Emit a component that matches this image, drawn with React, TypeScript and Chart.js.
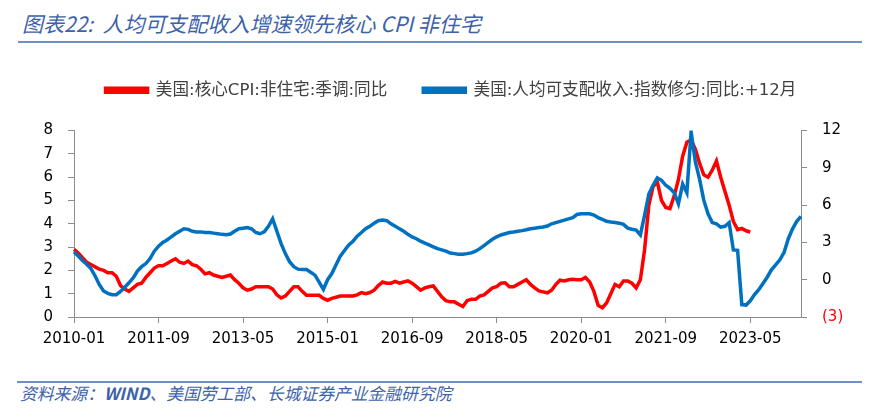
import { useEffect, useRef } from "react";
import { Chart, registerables } from "chart.js";

Chart.register(...registerables);

// ---------- data ----------
const monthCount = 173; // 2010-01 .. 2024-05
const categories: string[] = Array.from({ length: monthCount }, (_, i) => {
  const y = 2010 + Math.floor(i / 12);
  const m = (i % 12) + 1;
  return `${y}-${String(m).padStart(2, "0")}`;
});

const xTickLabels = [
  "2010-01", "2011-09", "2013-05", "2015-01", "2016-09",
  "2018-05", "2020-01", "2021-09", "2023-05",
];

// 美国:核心CPI:非住宅:季调:同比 (left axis), 2010-01 .. 2023-05
const coreCpiExShelter = [
  2.9, 2.75, 2.55, 2.35, 2.25, 2.15, 2.05, 2.0, 1.9, 1.9,
  1.75, 1.35, 1.2, 1.1, 1.25, 1.4, 1.45, 1.7, 1.9, 2.1,
  2.2, 2.2, 2.3, 2.4, 2.5, 2.35, 2.3, 2.4, 2.25, 2.2,
  2.05, 1.85, 1.9, 1.8, 1.75, 1.7, 1.75, 1.8, 1.6, 1.45,
  1.25, 1.15, 1.2, 1.3, 1.3, 1.3, 1.3, 1.2, 0.95, 0.82,
  0.9, 1.1, 1.3, 1.3, 1.1, 0.93, 0.93, 0.93, 0.93, 0.8,
  0.72, 0.8, 0.85, 0.9, 0.9, 0.9, 0.9, 0.95, 1.05, 1.0,
  1.05, 1.15, 1.35, 1.5, 1.45, 1.45, 1.53, 1.45, 1.5, 1.55,
  1.45, 1.3, 1.15, 1.25, 1.3, 1.33, 1.1, 0.87, 0.7, 0.65,
  0.65, 0.55, 0.45, 0.7, 0.76, 0.76, 0.9, 0.95, 1.1, 1.25,
  1.3, 1.45, 1.47, 1.3, 1.3, 1.4, 1.5, 1.6, 1.4, 1.25,
  1.12, 1.08, 1.04, 1.15, 1.4, 1.58, 1.55, 1.6, 1.62, 1.6,
  1.6, 1.7, 1.5, 1.1, 0.5, 0.4, 0.6, 1.0, 1.4, 1.3,
  1.55, 1.55, 1.45, 1.25, 1.6, 2.9, 4.8, 5.6, 5.8, 5.0,
  4.7, 4.65, 5.2, 5.9, 6.9, 7.5, 7.6, 7.2, 6.6, 6.1,
  6.0, 6.3, 6.7, 6.0, 5.4, 4.8, 4.1, 3.75, 3.8, 3.7,
  3.65,
];

// 美国:人均可支配收入:指数修匀:同比:+12月 (right axis), 2010-01 .. 2024-05
const incomePerCapita = [
  2.24, 1.9, 1.55, 1.25, 0.9, 0.3, -0.4, -0.9, -1.1, -1.2,
  -1.2, -0.95, -0.6, -0.25, 0.15, 0.7, 1.05, 1.3, 1.7, 2.3,
  2.7, 3.0, 3.2, 3.45, 3.7, 3.9, 4.1, 4.05, 3.9, 3.85,
  3.85, 3.8, 3.8, 3.75, 3.7, 3.65, 3.62, 3.68, 3.9, 4.1,
  4.15, 4.2, 4.1, 3.8, 3.7, 3.85, 4.3, 4.9, 3.9, 2.9,
  2.1, 1.45, 1.05, 0.85, 0.82, 0.82, 0.6, 0.37, -0.2, -0.78,
  0.0, 0.5, 1.2, 1.9, 2.35, 2.8, 3.1, 3.5, 3.8, 4.1,
  4.3, 4.55, 4.75, 4.8, 4.75, 4.5, 4.3, 4.1, 3.9, 3.65,
  3.44, 3.3, 3.1, 2.95, 2.8, 2.64, 2.5, 2.4, 2.3, 2.15,
  2.1, 2.05, 2.05, 2.1, 2.16, 2.3, 2.5, 2.75, 3.0, 3.25,
  3.45, 3.6, 3.7, 3.8, 3.84, 3.9, 3.95, 4.02, 4.1, 4.15,
  4.2, 4.25, 4.32, 4.5, 4.6, 4.7, 4.8, 4.9, 5.0, 5.25,
  5.3, 5.3, 5.3, 5.2, 5.0, 4.85, 4.7, 4.64, 4.6, 4.55,
  4.45, 4.15, 4.06, 4.0, 3.6, 5.2, 6.9, 7.6, 8.2, 8.0,
  7.6, 7.35, 7.0, 6.1, 7.7, 7.0, 11.9, 9.5, 8.1, 6.4,
  5.3, 4.6, 4.5, 4.24, 4.3, 4.6, 2.4, 2.37, -2.0, -2.04,
  -1.7, -1.2, -0.8, -0.3, 0.2, 0.8, 1.2, 1.6, 2.2, 3.3,
  4.1, 4.7, 5.1,
];

const redLabel = "美国:核心CPI:非住宅:季调:同比";
const blueLabel = "美国:人均可支配收入:指数修匀:同比:+12月";

const AXIS_COLOR = "#8c8c8c";
const TICK_FONT = { family: "'DejaVu Sans', 'Noto Sans CJK SC', sans-serif", size: 15 };

const legendGap = {
  id: "legendGap",
  beforeInit(chart: any) {
    const legend = chart.legend;
    if (!legend) return;
    const originalFit = legend.fit;
    legend.fit = function fit() {
      originalFit.bind(legend)();
      this.height += 22;
    };
  },
};

export default function App() {
  const canvasRef = useRef<HTMLCanvasElement | null>(null);

  useEffect(() => {
    const canvas = canvasRef.current;
    if (!canvas) return;
    const chart = new Chart(canvas, {
      type: "line",
      data: {
        labels: categories,
        datasets: [
          {
            label: redLabel,
            data: coreCpiExShelter,
            yAxisID: "y",
            borderColor: "#ff0000",
            backgroundColor: "#ff0000",
            borderWidth: 3.5,
            pointRadius: 0,
            tension: 0,
            order: 1,
          },
          {
            label: blueLabel,
            data: incomePerCapita,
            yAxisID: "y1",
            borderColor: "#0070c0",
            backgroundColor: "#0070c0",
            borderWidth: 3.5,
            pointRadius: 0,
            tension: 0,
            order: 0,
          },
        ],
      },
      options: {
        animation: false,
        responsive: false,
        layout: { padding: { left: 20, right: 0, top: 0, bottom: 0 } },
        plugins: {
          tooltip: { enabled: false },
          legend: {
            display: true,
            position: "top",
            align: "center",
            labels: {
              boxWidth: 42,
              boxHeight: 4,
              padding: 36,
              color: "#404040",
              font: { family: "'DejaVu Sans', 'Noto Sans CJK SC', sans-serif", size: 16.6 },
              sort: (a: any, b: any) => a.datasetIndex - b.datasetIndex,
            },
          },
        },
        scales: {
          x: {
            type: "category",
            offset: false,
            grid: {
              display: true,
              drawOnChartArea: false,
              drawTicks: true,
              tickLength: 6,
              color: AXIS_COLOR,
            },
            border: { display: true, color: AXIS_COLOR, width: 1 },
            ticks: {
              autoSkip: false,
              maxRotation: 0,
              minRotation: 0,
              padding: 7,
              color: "#000",
              font: TICK_FONT,
              callback: (_v: any, i: number) =>
                xTickLabels.includes(categories[i]) ? categories[i] : null,
            },
            afterFit: (s: any) => {
              s.height = 30;
            },
          },
          y: {
            position: "left",
            min: 0,
            max: 8,
            grid: {
              display: true,
              drawOnChartArea: false,
              drawTicks: true,
              tickLength: 6,
              color: AXIS_COLOR,
            },
            border: { display: true, color: AXIS_COLOR, width: 1 },
            ticks: { stepSize: 1, padding: 15, color: "#000", font: TICK_FONT },
            afterFit: (s: any) => {
              s.width = 54;
            },
          },
          y1: {
            position: "right",
            min: -3,
            max: 12,
            grid: {
              display: true,
              drawOnChartArea: false,
              drawTicks: true,
              tickLength: 6,
              color: AXIS_COLOR,
            },
            border: { display: true, color: AXIS_COLOR, width: 1 },
            ticks: {
              stepSize: 3,
              padding: 15,
              font: TICK_FONT,
              color: (c: any) => (c.tick && c.tick.value < 0 ? "#ff0000" : "#000"),
              callback: (v: any) => (Number(v) < 0 ? `(${Math.abs(Number(v))})` : `${v}`),
            },
            afterFit: (s: any) => {
              s.width = 81;
            },
          },
        },
      },
      plugins: [legendGap],
    } as any);
    return () => chart.destroy();
  }, []);

  const blue = "#3d62aa";
  return (
    <div
      style={{
        position: "fixed",
        left: 0,
        top: 0,
        width: 882,
        height: 417,
        background: "#fff",
        overflow: "hidden",
      }}
    >
      <div
        style={{
          position: "absolute",
          left: 22,
          top: 9,
          fontFamily: "'Noto Sans CJK SC', 'DejaVu Sans', sans-serif",
          fontStyle: "italic",
          fontSize: 21,
          lineHeight: "28px",
          color: blue,
          whiteSpace: "nowrap",
        }}
      >
        图表22:&nbsp;&nbsp;人均可支配收入增速领先核心 CPI 非住宅
      </div>
      <div
        style={{
          position: "absolute",
          left: 18,
          top: 41,
          width: 844,
          height: 2,
          background: "#6f8fc9",
        }}
      />
      <canvas
        ref={canvasRef}
        width={882}
        height={301}
        style={{ position: "absolute", left: 0, top: 46, width: 882, height: 301 }}
      />
      <div
        style={{
          position: "absolute",
          left: 17,
          top: 381,
          width: 845,
          height: 2,
          background: "#6f8fc9",
        }}
      />
      <div
        style={{
          position: "absolute",
          left: 20,
          top: 383,
          fontFamily: "'Noto Sans CJK SC', 'DejaVu Sans', sans-serif",
          fontStyle: "italic",
          fontSize: 16.8,
          lineHeight: "20px",
          color: blue,
          whiteSpace: "nowrap",
        }}
      >
        资料来源：<b style={{ fontWeight: 700 }}>WIND</b>、美国劳工部、长城证券产业金融研究院
      </div>
    </div>
  );
}
